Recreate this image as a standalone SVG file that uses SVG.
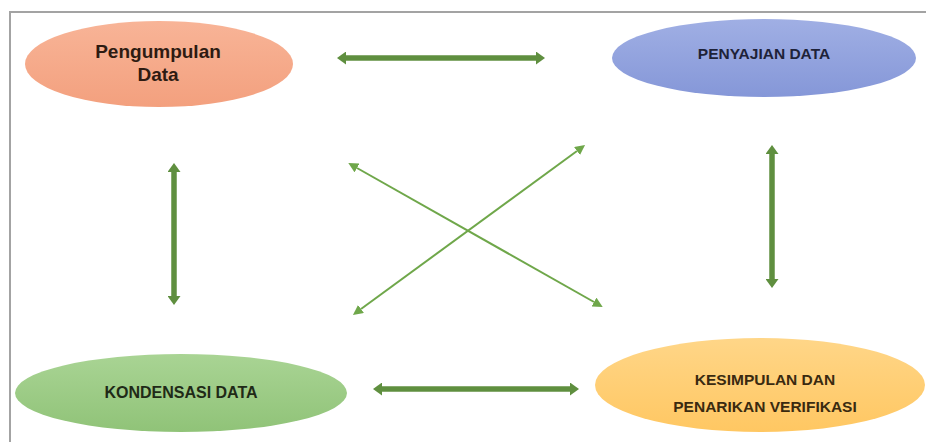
<svg xmlns="http://www.w3.org/2000/svg" width="926" height="442" viewBox="0 0 926 442">
  <style>
    .lbl { font-family: "Liberation Sans", Arial, sans-serif; font-weight: bold; text-anchor: middle; }
    .big { font-size: 19px; }
    .caps { font-size: 15.5px; }
    .thick { stroke: #5F8F3F; stroke-width: 5.5; fill: none; }
    .thin { stroke: #6FA74A; stroke-width: 2; fill: none; }
  </style>
  <defs>
    <linearGradient id="gOrange" x1="0" y1="0" x2="0" y2="1">
      <stop offset="0" stop-color="#F8B497"/>
      <stop offset="1" stop-color="#F3A07E"/>
    </linearGradient>
    <linearGradient id="gBlue" x1="0" y1="0" x2="0" y2="1">
      <stop offset="0" stop-color="#A0AFE4"/>
      <stop offset="1" stop-color="#8597D8"/>
    </linearGradient>
    <linearGradient id="gGreen" x1="0" y1="0" x2="0" y2="1">
      <stop offset="0" stop-color="#A9D494"/>
      <stop offset="1" stop-color="#90C378"/>
    </linearGradient>
    <linearGradient id="gYellow" x1="0" y1="0" x2="0" y2="1">
      <stop offset="0" stop-color="#FFD688"/>
      <stop offset="1" stop-color="#FFC762"/>
    </linearGradient>
    <marker id="headThick" markerUnits="userSpaceOnUse" markerWidth="9" markerHeight="13" viewBox="0 0 9 13" refX="0" refY="6.5" orient="auto-start-reverse">
      <path d="M0,0 L9,6.5 L0,13 z" fill="#5F8F3F"/>
    </marker>
    <marker id="headThin" markerUnits="userSpaceOnUse" markerWidth="10" markerHeight="10" viewBox="0 0 10 10" refX="0" refY="5" orient="auto-start-reverse">
      <path d="M0,0 L10,5 L0,10 z" fill="#6FA74A"/>
    </marker>
  </defs>

  <rect x="0" y="0" width="926" height="442" fill="#FFFFFF"/>
  <path d="M10,442 L10,12 L926,12" fill="none" stroke="#A3A3A3" stroke-width="2"/>

  <g id="connectors">
    <line class="thick" x1="346" y1="58" x2="536" y2="58" marker-start="url(#headThick)" marker-end="url(#headThick)"/>
    <line class="thick" x1="382" y1="389" x2="570" y2="389" marker-start="url(#headThick)" marker-end="url(#headThick)"/>
    <line class="thick" x1="174" y1="172" x2="174" y2="296" marker-start="url(#headThick)" marker-end="url(#headThick)"/>
    <line class="thick" x1="772" y1="154" x2="772" y2="279" marker-start="url(#headThick)" marker-end="url(#headThick)"/>
    <line class="thin" x1="357" y1="168" x2="594" y2="302" marker-start="url(#headThin)" marker-end="url(#headThin)"/>
    <line class="thin" x1="361" y1="309" x2="577" y2="151" marker-start="url(#headThin)" marker-end="url(#headThin)"/>
  </g>

  <g id="pengumpulan">
    <ellipse cx="159" cy="64" rx="134" ry="43" fill="url(#gOrange)"/>
    <text class="lbl big" x="158" y="58" fill="#2E1B12">Pengumpulan</text>
    <text class="lbl big" x="158" y="81" fill="#2E1B12">Data</text>
  </g>

  <g id="penyajian">
    <ellipse cx="764" cy="58" rx="152" ry="39" fill="url(#gBlue)"/>
    <text class="lbl caps" x="764" y="59" fill="#1E2238">PENYAJIAN DATA</text>
  </g>

  <g id="kondensasi">
    <ellipse cx="181" cy="393" rx="166" ry="39" fill="url(#gGreen)"/>
    <text class="lbl caps" x="181" y="398" fill="#1F2A17" style="font-size:16px">KONDENSASI DATA</text>
  </g>

  <g id="kesimpulan">
    <ellipse cx="760" cy="385" rx="165" ry="47" fill="url(#gYellow)"/>
    <text class="lbl caps" x="765" y="385" fill="#3A2A10">KESIMPULAN DAN</text>
    <text class="lbl caps" x="765" y="412" fill="#3A2A10">PENARIKAN VERIFIKASI</text>
  </g>
</svg>
